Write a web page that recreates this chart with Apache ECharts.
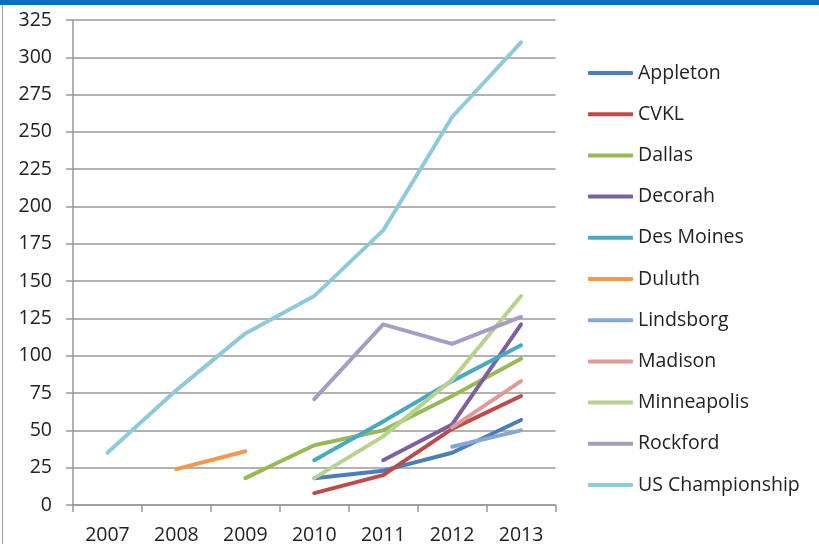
<!DOCTYPE html>
<html><head><meta charset="utf-8">
<script src="https://cdn.jsdelivr.net/npm/echarts@6/dist/echarts.min.js"></script>
<style>html,body{margin:0;padding:0;background:#fff}#c{width:819px;height:544px}</style>
</head><body><div id="c"></div>
<script>
const years = ['2007','2008','2009','2010','2011','2012','2013'];
const yTicks = {min: 0, max: 325, interval: 25};
const appleton      = [null, null, null, 18, 23, 35, 57];
const cvkl          = [null, null, null, 8, 20, 51, 73];
const dallas        = [null, null, 18, 40, 50, 73, 98];
const decorah       = [null, null, null, null, 30, 54, 121];
const desMoines     = [null, null, null, 30, 56, 83, 107];
const duluth        = [null, 24, 36, null, null, null, null];
const lindsborg     = [null, null, null, null, null, 39, 50];
const madison       = [null, null, null, null, null, 52, 83];
const minneapolis   = [null, null, null, 18, 46, 84, 140];
const rockford      = [null, null, null, 71, 121, 108, 126];
const usChampionship= [35, 77, 115, 140, 184, 260, 310];

const seriesNames = ['Appleton','CVKL','Dallas','Decorah','Des Moines','Duluth','Lindsborg','Madison','Minneapolis','Rockford','US Championship'];
const seriesData = [appleton,cvkl,dallas,decorah,desMoines,duluth,lindsborg,madison,minneapolis,rockford,usChampionship];
const colors = ['#4A7EBB','#BE4B48','#98B954','#7D60A0','#46AAC5','#F79646','#86A6D6','#DE9A98','#B7D28D','#A89BC6','#8FC9DC'];

const font = '"Open Sans", sans-serif';
const chart = echarts.init(document.getElementById('c'), null, {renderer:'canvas'});
chart.setOption({
  animation: false,
  color: colors,
  graphic: [
    {type:'rect', shape:{x:0,y:0,width:819,height:5}, style:{fill:'#0A6FC0'}},
    {type:'rect', shape:{x:2,y:5,width:1,height:539}, style:{fill:'#A0A0A0'}}
  ],
  grid: {left: 73, right: 263.5, top: 20, bottom: 39, containLabel: false, outerBoundsMode: 'none'},
  legend: {
    orient: 'vertical', left: 588, top: 63, padding: 0,
    itemWidth: 45, itemHeight: 4, itemGap: 21.2, icon: 'roundRect',
    textStyle: {fontFamily: font, fontSize: 19.5, color: '#222', lineHeight: 20},
    data: seriesNames
  },
  xAxis: {
    type: 'category', data: years, boundaryGap: true,
    axisLine: {lineStyle: {color: '#999', width: 1.5}},
    axisTick: {show: true, length: 7, lineStyle: {color: '#999', width: 1.5}},
    axisLabel: {fontFamily: font, fontSize: 19.5, color: '#222', margin: 20},
    splitLine: {show: false}
  },
  yAxis: {
    type: 'value', min: yTicks.min, max: yTicks.max, interval: yTicks.interval,
    axisLine: {show: true, lineStyle: {color: '#999', width: 1.5}},
    axisTick: {show: true, length: 7, lineStyle: {color: '#999', width: 1.5}},
    axisLabel: {fontFamily: font, fontSize: 19.5, color: '#222', margin: 21},
    splitLine: {show: true, lineStyle: {color: '#999', width: 1.5}}
  },
  series: seriesNames.map((n, i) => ({
    name: n, type: 'line', data: seriesData[i], showSymbol: false, symbol: 'none',
    connectNulls: false, smooth: false,
    lineStyle: {width: 4, cap: 'round', join: 'round', color: colors[i]},
    itemStyle: {color: colors[i]}
  }))
});
</script></body></html>
